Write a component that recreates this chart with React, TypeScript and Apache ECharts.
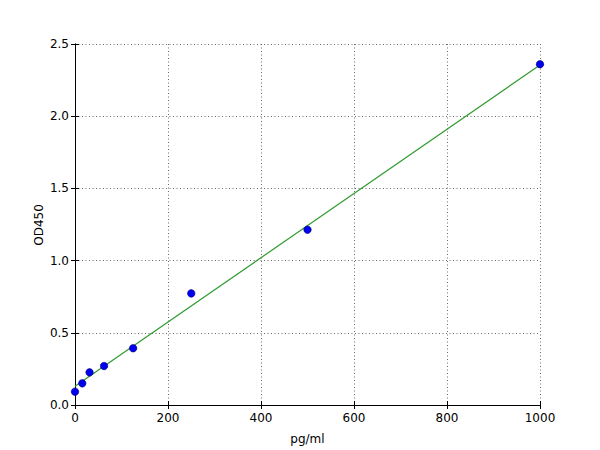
import React, { useEffect, useRef } from 'react';
import * as echarts from 'echarts';

// standard concentrations (pg/ml) and measured OD450
const concentrations = [0, 15.6, 31.25, 62.5, 125, 250, 500, 1000];
const odValues = [0.092, 0.15, 0.226, 0.27, 0.393, 0.773, 1.214, 2.36];

// fitted line, end points
const fitX = [0, 1000];
const fitY = [0.13, 2.355];

const FONT = 'DejaVu Sans';

const App: React.FC = () => {
  const chartRef = useRef<HTMLDivElement>(null);

  useEffect(() => {
    document.body.style.margin = '0';
    if (!chartRef.current) return;
    const chart = echarts.init(chartRef.current, undefined, { renderer: 'svg' });

    const splitLine = {
      show: true,
      lineStyle: { color: '#444', width: 0.8, type: [1, 2.5] as number[] },
    };
    const axisLine = { show: true, lineStyle: { color: '#000', width: 1 } };
    const axisTick = { show: true, inside: true, length: 4, lineStyle: { color: '#000' } };
    const labelStyle = { color: '#000', fontFamily: FONT, fontSize: 12 };

    const option: echarts.EChartsOption = {
      animation: false,
      backgroundColor: '#fff',
      grid: { left: 75, right: 60, top: 44, bottom: 45 },
      // y axis title placed by hand so it sits where the reference has it
      graphic: [
        {
          type: 'text',
          x: 39,
          y: 225,
          rotation: Math.PI / 2,
          style: {
            text: 'OD450',
            fill: '#000',
            font: `12px "${FONT}"`,
            align: 'center',
            verticalAlign: 'middle',
          },
        },
      ],
      xAxis: [
        {
          type: 'value',
          min: 0,
          max: 1000,
          interval: 200,
          position: 'bottom',
          name: 'pg/ml',
          nameLocation: 'middle',
          nameGap: 28,
          nameTextStyle: labelStyle,
          axisLine,
          axisTick,
          splitLine,
          axisLabel: { ...labelStyle, margin: 7, formatter: (v: number) => String(v) },
        },
        {
          type: 'value',
          min: 0,
          max: 1000,
          interval: 200,
          position: 'top',
          axisLine,
          axisTick,
          splitLine: { show: false },
          axisLabel: { show: false },
        },
      ],
      yAxis: [
        {
          type: 'value',
          min: 0,
          max: 2.5,
          interval: 0.5,
          position: 'left',
          axisLine,
          axisTick,
          splitLine,
          axisLabel: {
            ...labelStyle,
            margin: 6,
            formatter: (v: number) => v.toFixed(1),
          },
        },
        {
          type: 'value',
          min: 0,
          max: 2.5,
          interval: 0.5,
          position: 'right',
          axisLine,
          axisTick,
          splitLine: { show: false },
          axisLabel: { show: false },
        },
      ],
      series: [
        {
          type: 'line',
          data: fitX.map((x, i) => [x, fitY[i]]),
          showSymbol: false,
          symbol: 'none',
          lineStyle: { color: '#2f9a2f', width: 1.2 },
          z: 2,
        },
        {
          type: 'scatter',
          data: concentrations.map((x, i) => [x, odValues[i]]),
          symbolSize: 7.5,
          itemStyle: { color: '#0000ee', borderColor: '#00007a', borderWidth: 0.6, opacity: 1 },
          z: 3,
        },
      ],
    };

    chart.setOption(option);
    return () => chart.dispose();
  }, []);

  return <div ref={chartRef} style={{ width: 600, height: 450 }} />;
};

export default App;
